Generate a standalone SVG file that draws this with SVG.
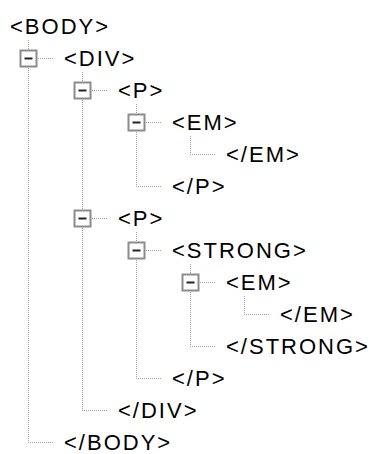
<svg xmlns="http://www.w3.org/2000/svg" width="376" height="454" viewBox="0 0 376 454">
<style>
.t{font-family:"Liberation Sans",Arial,sans-serif;font-size:22px;letter-spacing:2px;fill:#000}
.c line{stroke:#a0a0a0;stroke-width:1;stroke-dasharray:1 1}
.bx rect{fill:#fff;stroke:#8c8c8c;stroke-width:2}
.bx line{stroke:#222;stroke-width:2}
</style>
<rect width="376" height="454" fill="#fff"/>
<defs>
<g id="box" class="bx"><rect x="-8" y="-8" width="16" height="16"/><line x1="-4" y1="0" x2="4" y2="0"/></g>
</defs>
<g id="connectors" class="c">
<line x1="28.5" y1="40" x2="28.5" y2="442"/>
<line x1="82.5" y1="72" x2="82.5" y2="410"/>
<line x1="136.5" y1="104" x2="136.5" y2="186"/>
<line x1="190.5" y1="136" x2="190.5" y2="154"/>
<line x1="136.5" y1="232" x2="136.5" y2="378"/>
<line x1="190.5" y1="264" x2="190.5" y2="346"/>
<line x1="244.5" y1="296" x2="244.5" y2="314"/>
<line x1="36" y1="58.5" x2="54" y2="58.5"/>
<line x1="90" y1="90.5" x2="108" y2="90.5"/>
<line x1="144" y1="122.5" x2="162" y2="122.5"/>
<line x1="190" y1="154.5" x2="216" y2="154.5"/>
<line x1="136" y1="186.5" x2="162" y2="186.5"/>
<line x1="90" y1="218.5" x2="108" y2="218.5"/>
<line x1="144" y1="250.5" x2="162" y2="250.5"/>
<line x1="198" y1="282.5" x2="216" y2="282.5"/>
<line x1="244" y1="314.5" x2="270" y2="314.5"/>
<line x1="190" y1="346.5" x2="216" y2="346.5"/>
<line x1="136" y1="378.5" x2="162" y2="378.5"/>
<line x1="82" y1="410.5" x2="108" y2="410.5"/>
<line x1="28" y1="442.5" x2="54" y2="442.5"/>
</g>
<g id="n0"><text class="t" x="10" y="33.5">&lt;BODY&gt;</text></g>
<g id="n1"><use href="#box" x="28.5" y="58.5"/><text class="t" x="64" y="65.5">&lt;DIV&gt;</text></g>
<g id="n2"><use href="#box" x="82.5" y="90.5"/><text class="t" x="118" y="97.5">&lt;P&gt;</text></g>
<g id="n3"><use href="#box" x="136.5" y="122.5"/><text class="t" x="172" y="129.5">&lt;EM&gt;</text></g>
<g id="n4"><text class="t" x="226" y="161.5">&lt;/EM&gt;</text></g>
<g id="n5"><text class="t" x="172" y="193.5">&lt;/P&gt;</text></g>
<g id="n6"><use href="#box" x="82.5" y="218.5"/><text class="t" x="118" y="225.5">&lt;P&gt;</text></g>
<g id="n7"><use href="#box" x="136.5" y="250.5"/><text class="t" x="172" y="257.5">&lt;STRONG&gt;</text></g>
<g id="n8"><use href="#box" x="190.5" y="282.5"/><text class="t" x="226" y="289.5">&lt;EM&gt;</text></g>
<g id="n9"><text class="t" x="280" y="321.5">&lt;/EM&gt;</text></g>
<g id="n10"><text class="t" x="226" y="353.5">&lt;/STRONG&gt;</text></g>
<g id="n11"><text class="t" x="172" y="385.5">&lt;/P&gt;</text></g>
<g id="n12"><text class="t" x="118" y="417.5">&lt;/DIV&gt;</text></g>
<g id="n13"><text class="t" x="64" y="449.5">&lt;/BODY&gt;</text></g>
</svg>
